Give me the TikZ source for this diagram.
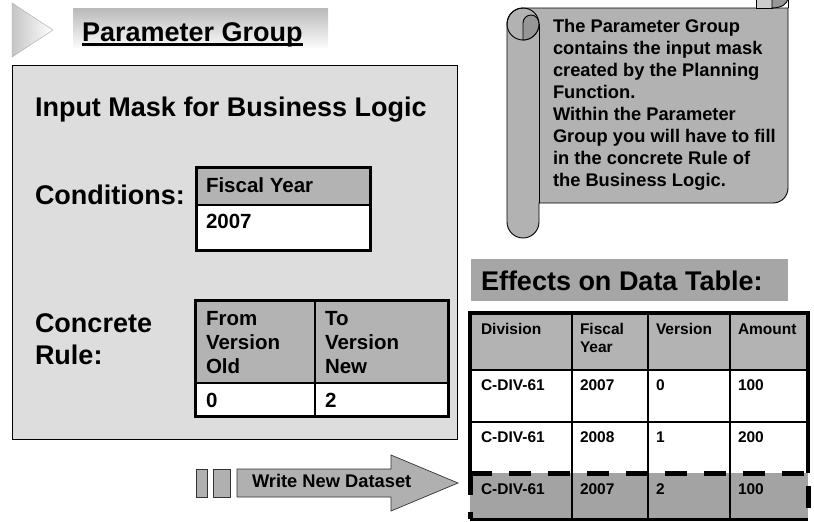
\documentclass[tikz,border=0pt]{standalone}
\usepackage{fontspec}
\setmainfont{Liberation Sans}
\definecolor{panelgray}{RGB}{221,221,221}
\definecolor{hdrgray}{RGB}{179,179,179}
\definecolor{scrollgray}{RGB}{178,178,178}
\definecolor{effgray}{RGB}{166,166,166}
\definecolor{lastgray}{RGB}{163,163,163}
\definecolor{arrowgray}{RGB}{176,176,176}
\definecolor{curlgray}{RGB}{150,150,150}
\newcommand\myfs[1]{\fontsize{#1}{#1}\selectfont}
\begin{document}
\begin{tikzpicture}[x=1pt,y=-1pt,
  txt/.style={anchor=base west,inner sep=0pt,outer sep=0pt,font=\bfseries},
  big/.style={txt,font=\bfseries\myfs{27}},
  mid/.style={txt,font=\bfseries\myfs{20.5}},
  sml/.style={txt,font=\bfseries\myfs{15.5}},
  scr/.style={txt,font=\bfseries\myfs{18.3}},
  tblline/.style={line width=1.5pt},
  tblouter/.style={line width=3pt},
  hdrcell/.style={fill=hdrgray},
  bodycell/.style={fill=white}]
\useasboundingbox (0,0) rectangle (814,522);

% top-left triangle
\draw[gray!70,left color=gray!45,right color=white] (12,3) -- (53,30) -- (12,57) -- cycle;

% title box
\shade[top color=gray!55,bottom color=gray!4] (73,8) rectangle (328,47);
\node[big] (title) at (82,41) {Parameter Group};
\draw[line width=3pt] ([yshift=-3.3pt]title.base west) -- ([yshift=-3.3pt]title.base east);

% main panel
\draw[fill=panelgray,line width=0.8pt] (12,65) rectangle (457,439);
\node[big] (inmask) at (35,116) {Input Mask for Business Logic};
\node[big] (cond) at (35,204) {Conditions:};
\node[big] (conc) at (35,332) {Concrete};
\node[big] (rule) at (35,364) {Rule:};

% fiscal year table
\fill[hdrgray] (196,167) rectangle (370,205);
\fill[white] (196,205) rectangle (370,250);
\draw[tblline] (196,205) -- (370,205);
\draw[tblouter] (196,167) rectangle (370,250);
\node[mid] (fyh) at (206,192) {Fiscal Year};
\node[mid] (fyv) at (206,228) {2007};

% version table
\fill[hdrgray] (195,300) rectangle (448,383);
\fill[white] (195,383) rectangle (448,416);
\draw[line width=1.2pt] (315,300) -- (315,416);
\draw[tblline] (195,383) -- (448,383);
\draw[tblouter] (195,300) rectangle (448,416);
\node[mid] (f1) at (206,325) {From};
\node[mid] (f2) at (206,349) {Version};
\node[mid] (f3) at (206,373) {Old};
\node[mid] (f4) at (206,407) {0};
\node[mid] (t1) at (325,325) {To};
\node[mid] (t2) at (325,349) {Version};
\node[mid] (t3) at (325,373) {New};
\node[mid] (t4) at (325,407) {2};

% scroll
\draw[fill=scrollgray,line width=0.9pt]
  (507,222) -- (507,24) .. controls (507,15.2) and (514.2,8) .. (523,8)
  -- (788,8) -- (788,188) .. controls (788,196.3) and (781.3,203) .. (773,203)
  -- (539,203) -- (539,222) .. controls (539,230.8) and (531.8,238) .. (523,238)
  .. controls (514.2,238) and (507,230.8) .. (507,222) -- cycle;
\draw[line width=0.9pt] (523,24) circle[radius=16];
\draw[line width=0.9pt] (539,24) -- (539,203);
\draw[fill=curlgray,line width=0.9pt]
  (523,40) -- (523,23) .. controls (523,18.6) and (526.6,15) .. (531,15)
  .. controls (535.4,15) and (539,18.6) .. (539,24)
  .. controls (539,32.8) and (531.8,40) .. (523,40) -- cycle;
\draw[fill=gray!40,line width=0.7pt] (756,-2) rectangle (772,8);
\draw[fill=curlgray,line width=0.9pt] (772,-2) -- (772,8) .. controls (781,8) and (788,4) .. (788,-2);
\draw[line width=0.9pt] (788,-2) -- (788,8);
\node[scr] (s1) at (553,32.5) {The Parameter Group};
\node[scr] (s2) at (553,54.5) {contains the input mask};
\node[scr] (s3) at (553,76.5) {created by the Planning};
\node[scr] (s4) at (553,98.5) {Function.};
\node[scr] (s5) at (553,120.5) {Within the Parameter};
\node[scr] (s6) at (553,142.5) {Group you will have to fill};
\node[scr] (s7) at (553,164.5) {in the concrete Rule of};
\node[scr] (s8) at (553,186.5) {the Business Logic.};

% effects title
\fill[effgray] (471,259) rectangle (788,301);
\node[big] (eff) at (481,290) {Effects on Data Table:};

% data table
\fill[hdrgray] (470,313) rectangle (808,370);
\fill[white] (470,370) rectangle (808,473);
\fill[lastgray] (470,473) rectangle (808,519);
\foreach \cx in {572,648,730} \draw[tblline] (\cx,313) -- (\cx,519);
\foreach \cy in {370,422} \draw[tblline] (470,\cy) -- (808,\cy);
\draw[line width=4pt] (470,473) -- (470,313) -- (808,313) -- (808,473);
\draw[line width=3pt] (470,519) -- (808,519);
\draw[line width=5pt,dash pattern=on 22pt off 17pt] (470,473) -- (808,473) -- (808,519);
\draw[line width=5pt,dash pattern=on 22pt off 17pt] (470,473) -- (470,519);
\node[sml] (h1) at (481,334) {Division};
\node[sml] (h2) at (580,334) {Fiscal};
\node[sml] (h2b) at (580,352) {Year};
\node[sml] (h3) at (656,334) {Version};
\node[sml] (h4) at (738,334) {Amount};
\node[sml] (a1) at (481,390) {C-DIV-61};
\node[sml] (a2) at (580,390) {2007};
\node[sml] (a3) at (656,390) {0};
\node[sml] (a4) at (738,390) {100};
\node[sml] (b1) at (481,442) {C-DIV-61};
\node[sml] (b2) at (580,442) {2008};
\node[sml] (b3) at (656,442) {1};
\node[sml] (b4) at (738,442) {200};
\node[sml] (c1) at (481,494) {C-DIV-61};
\node[sml] (c2) at (580,494) {2007};
\node[sml] (c3) at (656,494) {2};
\node[sml] (c4) at (738,494) {100};

% write new dataset arrow
\draw[fill=arrowgray,draw=gray!40!black,line width=0.7pt] (196,469) rectangle (207,497);
\draw[fill=arrowgray,draw=gray!40!black,line width=0.7pt] (213,469) rectangle (230,497);
\draw[fill=arrowgray,draw=gray!40!black,line width=0.7pt]
  (237,469) -- (391,469) -- (391,455) -- (458,483) -- (391,511) -- (391,497) -- (237,497) -- cycle;
\node[scr] (wnd) at (252,487) {Write New Dataset};
\end{tikzpicture}
\end{document}
